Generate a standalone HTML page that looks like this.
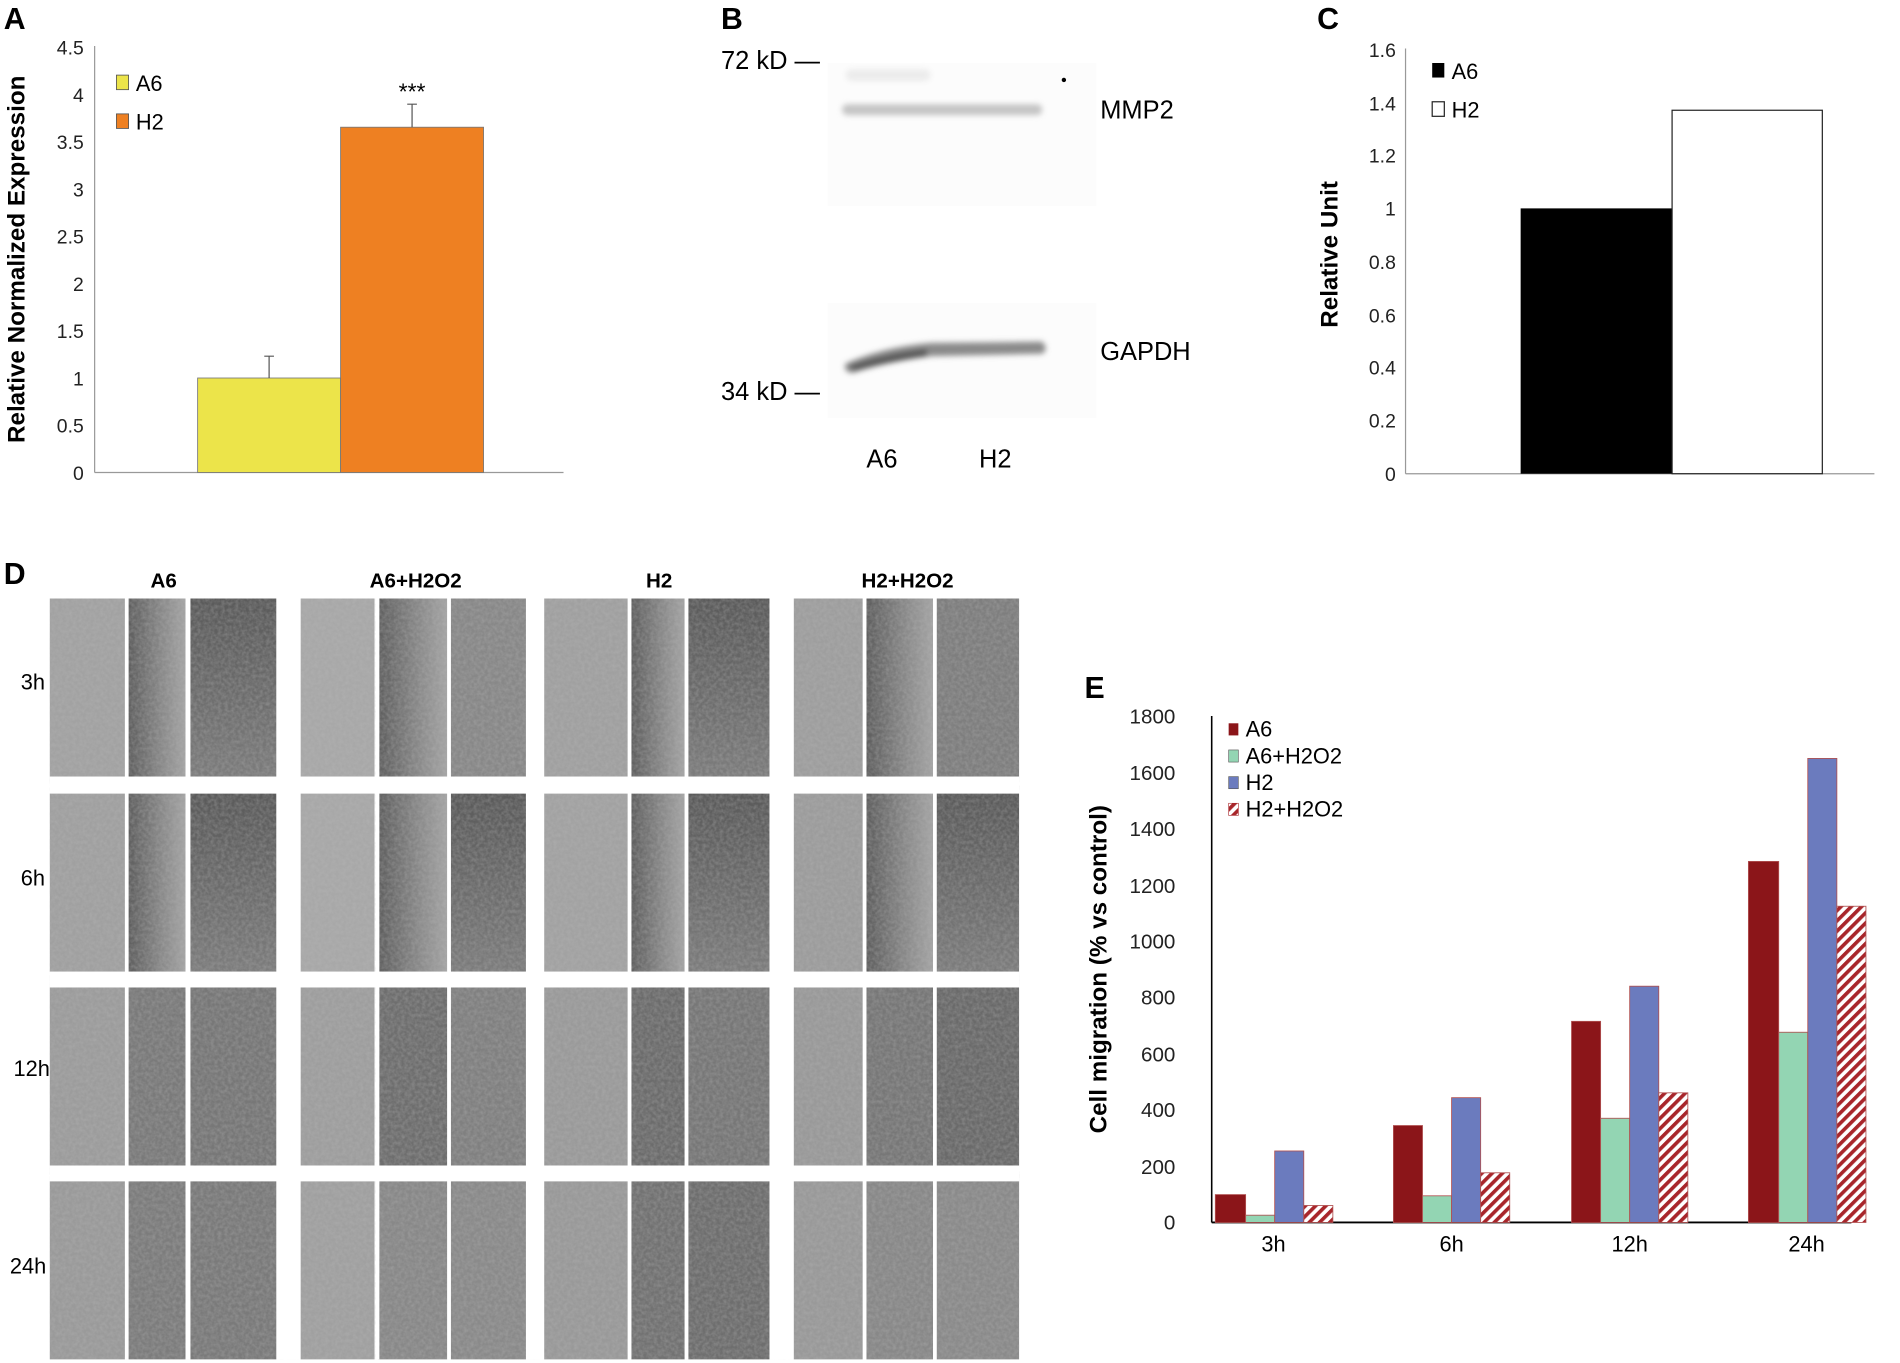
<!DOCTYPE html>
<html><head><meta charset="utf-8"><style>
html,body{margin:0;padding:0;background:#fff;}
svg{display:block;font-family:"Liberation Sans",Arial,sans-serif;}
</style></head><body>
<svg width="1900" height="1363" viewBox="0 0 1568 1125" xmlns="http://www.w3.org/2000/svg">
<defs>
<filter id="noise" x="0" y="0" width="100%" height="100%">
<feTurbulence type="fractalNoise" baseFrequency="0.35" numOctaves="2" seed="3"/>
<feColorMatrix type="matrix" values="0 0 0 0 0.5  0 0 0 0 0.5  0 0 0 0 0.5  0 0 0 1.2 -0.35"/>
</filter>
<filter id="blur" x="-20%" y="-100%" width="140%" height="300%"><feGaussianBlur stdDeviation="2.5"/></filter>
<linearGradient id="mid" x1="0" x2="1" y1="0" y2="0"><stop offset="0" stop-color="#5e5e5e"/><stop offset="0.6" stop-color="#8a8a8a"/><stop offset="1" stop-color="#a4a4a4"/></linearGradient>
<linearGradient id="rgt" x1="0" x2="0" y1="0" y2="1"><stop offset="0" stop-color="#5a5a5a"/><stop offset="1" stop-color="#7c7c7c"/></linearGradient>
<pattern id="hatch" width="6" height="6" patternUnits="userSpaceOnUse" patternTransform="rotate(45)"><rect width="6" height="6" fill="#fff"/><rect width="3" height="6" fill="#a8262b"/></pattern>
</defs>

<!-- Panel A -->
<text x="3" y="24" font-size="25" font-weight="bold">A</text>
<g font-size="16" fill="#222" text-anchor="end">
<text x="69" y="396">0</text><text x="69" y="357">0.5</text><text x="69" y="318">1</text><text x="69" y="279">1.5</text><text x="69" y="240">2</text><text x="69" y="201">2.5</text><text x="69" y="162">3</text><text x="69" y="123">3.5</text><text x="69" y="84">4</text><text x="69" y="45">4.5</text>
</g>
<line x1="78" y1="38" x2="78" y2="390" stroke="#999" stroke-width="1"/>
<line x1="78" y1="390" x2="465" y2="390" stroke="#999" stroke-width="1"/>
<rect x="163" y="312" width="118" height="78" fill="#ece44a" stroke="#777" stroke-width="0.7"/>
<rect x="281" y="105" width="118" height="285" fill="#ee8022" stroke="#777" stroke-width="0.7"/>
<path d="M222 312V294M218 294h8M340 105V86M336 86h8" stroke="#555" stroke-width="1"/>
<text x="340" y="82" font-size="19" text-anchor="middle">***</text>
<rect x="96" y="62" width="10" height="12" fill="#ece44a" stroke="#555" stroke-width="0.7"/>
<text x="112" y="75" font-size="18">A6</text>
<rect x="96" y="94" width="10" height="12" fill="#ee8022" stroke="#555" stroke-width="0.7"/>
<text x="112" y="107" font-size="18">H2</text>
<text transform="translate(20,214) rotate(-90)" font-size="20" font-weight="bold" text-anchor="middle">Relative Normalized Expression</text>

<!-- Panel B -->
<text x="595" y="24" font-size="25" font-weight="bold">B</text>
<rect x="683" y="52" width="222" height="118" fill="#fcfcfc"/>
<rect x="683" y="250" width="222" height="95" fill="#fcfcfc"/>
<g filter="url(#blur)">
<rect x="695" y="86" width="165" height="9" rx="4" fill="#c4c4c4"/>
<rect x="698" y="57" width="70" height="10" rx="5" fill="#ececec"/>
<path d="M698 300 Q730 286 768 283 L860 282 Q866 288 860 292 L768 294 Q735 298 703 308 Q695 306 698 300Z" fill="#8a8a8a"/>
<path d="M700 302 Q730 292 765 288 L765 294 Q735 298 705 306Z" fill="#555"/>
</g>
<circle cx="878" cy="66" r="1.8" fill="#000"/>
<g font-size="21">
<text x="595" y="57">72 kD —</text>
<text x="595" y="330">34 kD —</text>
<text x="908" y="98">MMP2</text>
<text x="908" y="297">GAPDH</text>
<text x="715" y="386">A6</text>
<text x="808" y="386">H2</text>
</g>

<!-- Panel C -->
<text x="1087" y="24" font-size="25" font-weight="bold">C</text>
<g font-size="16" fill="#222" text-anchor="end">
<text x="1152" y="397">0</text><text x="1152" y="353">0.2</text><text x="1152" y="309">0.4</text><text x="1152" y="266">0.6</text><text x="1152" y="222">0.8</text><text x="1152" y="178">1</text><text x="1152" y="134">1.2</text><text x="1152" y="91">1.4</text><text x="1152" y="47">1.6</text>
</g>
<line x1="1160" y1="40" x2="1160" y2="391" stroke="#999"/>
<line x1="1160" y1="391" x2="1547" y2="391" stroke="#999"/>
<rect x="1255" y="172" width="125" height="219" fill="#000"/>
<rect x="1380" y="91" width="124" height="300" fill="#fff" stroke="#222" stroke-width="1"/>
<rect x="1182" y="52" width="10" height="12" fill="#000"/>
<text x="1198" y="65" font-size="18">A6</text>
<rect x="1182" y="84" width="10" height="12" fill="#fff" stroke="#222"/>
<text x="1198" y="97" font-size="18">H2</text>
<text transform="translate(1104,210) rotate(-90)" font-size="20" font-weight="bold" text-anchor="middle">Relative Unit</text>

<!-- Panel D -->
<text x="3" y="482" font-size="25" font-weight="bold">D</text>
<g font-size="17" font-weight="bold" text-anchor="middle">
<text x="135" y="485">A6</text><text x="343" y="485">A6+H2O2</text><text x="544" y="485">H2</text><text x="749" y="485">H2+H2O2</text>
</g>
<g font-size="18">
<text x="17" y="569">3h</text><text x="17" y="731">6h</text><text x="11" y="888">12h</text><text x="8" y="1051">24h</text>
</g>
<g>
<g>
<rect x="41" y="494" width="62" height="147" fill="#a2a2a2"/><rect x="106" y="494" width="47" height="147" fill="url(#mid)"/><rect x="157" y="494" width="71" height="147" fill="url(#rgt)"/>
<rect x="41" y="655" width="62" height="147" fill="#a0a0a0"/><rect x="106" y="655" width="47" height="147" fill="url(#mid)"/><rect x="157" y="655" width="71" height="147" fill="url(#rgt)"/>
<rect x="41" y="815" width="62" height="147" fill="#9c9c9c"/><rect x="106" y="815" width="47" height="147" fill="#7a7a7a"/><rect x="157" y="815" width="71" height="147" fill="#777"/>
<rect x="41" y="975" width="62" height="147" fill="#9a9a9a"/><rect x="106" y="975" width="47" height="147" fill="#7c7c7c"/><rect x="157" y="975" width="71" height="147" fill="#7a7a7a"/>
</g>
<g transform="translate(207,0)">
<rect x="41" y="494" width="61" height="147" fill="#a8a8a8"/><rect x="105" y="494" width="57" height="147" fill="url(#mid)"/><rect x="165" y="494" width="62" height="147" fill="#888"/>
<rect x="41" y="655" width="61" height="147" fill="#a8a8a8"/><rect x="105" y="655" width="57" height="147" fill="url(#mid)"/><rect x="165" y="655" width="62" height="147" fill="url(#rgt)"/>
<rect x="41" y="815" width="61" height="147" fill="#9e9e9e"/><rect x="105" y="815" width="57" height="147" fill="#6e6e6e"/><rect x="165" y="815" width="62" height="147" fill="#808080"/>
<rect x="41" y="975" width="61" height="147" fill="#a0a0a0"/><rect x="105" y="975" width="57" height="147" fill="#888"/><rect x="165" y="975" width="62" height="147" fill="#8a8a8a"/>
</g>
<g transform="translate(408,0)">
<rect x="41" y="494" width="69" height="147" fill="#a0a0a0"/><rect x="113" y="494" width="44" height="147" fill="url(#mid)"/><rect x="160" y="494" width="67" height="147" fill="url(#rgt)"/>
<rect x="41" y="655" width="69" height="147" fill="#a2a2a2"/><rect x="113" y="655" width="44" height="147" fill="url(#mid)"/><rect x="160" y="655" width="67" height="147" fill="url(#rgt)"/>
<rect x="41" y="815" width="69" height="147" fill="#9a9a9a"/><rect x="113" y="815" width="44" height="147" fill="#6c6c6c"/><rect x="160" y="815" width="67" height="147" fill="#777"/>
<rect x="41" y="975" width="69" height="147" fill="#999"/><rect x="113" y="975" width="44" height="147" fill="#727272"/><rect x="160" y="975" width="67" height="147" fill="#6e6e6e"/>
</g>
<g transform="translate(614,0)">
<rect x="41" y="494" width="57" height="147" fill="#9e9e9e"/><rect x="101" y="494" width="55" height="147" fill="url(#mid)"/><rect x="159" y="494" width="68" height="147" fill="#7e7e7e"/>
<rect x="41" y="655" width="57" height="147" fill="#9c9c9c"/><rect x="101" y="655" width="55" height="147" fill="url(#mid)"/><rect x="159" y="655" width="68" height="147" fill="url(#rgt)"/>
<rect x="41" y="815" width="57" height="147" fill="#999"/><rect x="101" y="815" width="55" height="147" fill="#777"/><rect x="159" y="815" width="68" height="147" fill="#6a6a6a"/>
<rect x="41" y="975" width="57" height="147" fill="#999"/><rect x="101" y="975" width="55" height="147" fill="#888"/><rect x="159" y="975" width="68" height="147" fill="#8a8a8a"/>
</g>
</g>
<g opacity="0.45">
<rect x="41" y="494" width="800" height="628" filter="url(#noise)"/>
</g>
<g fill="#fff">
<rect x="228" y="494" width="20" height="628"/><rect x="434" y="494" width="15" height="628"/><rect x="635" y="494" width="20" height="628"/>
<rect x="41" y="641" width="800" height="14"/><rect x="41" y="802" width="800" height="13"/><rect x="41" y="962" width="800" height="13"/>
<rect x="103" y="494" width="3" height="628"/><rect x="153" y="494" width="4" height="628"/>
<rect x="310" y="494" width="3" height="628"/><rect x="369" y="494" width="3" height="628"/>
<rect x="518" y="494" width="3" height="628"/><rect x="565" y="494" width="3" height="628"/>
<rect x="712" y="494" width="3" height="628"/><rect x="770" y="494" width="3" height="628"/>
</g>

<!-- Panel E -->
<text x="895" y="576" font-size="25" font-weight="bold">E</text>
<g font-size="17" fill="#222" text-anchor="end">
<text x="970" y="1015">0</text><text x="970" y="969">200</text><text x="970" y="922">400</text><text x="970" y="876">600</text><text x="970" y="829">800</text><text x="970" y="783">1000</text><text x="970" y="737">1200</text><text x="970" y="690">1400</text><text x="970" y="644">1600</text><text x="970" y="597">1800</text>
</g>
<line x1="1000" y1="591" x2="1000" y2="1009" stroke="#000" stroke-width="1.3"/>
<line x1="1000" y1="1009" x2="1528" y2="1009" stroke="#000" stroke-width="1.5"/>
<g stroke="#b05050" stroke-width="0.7">
<rect x="1003" y="986" width="25" height="23" fill="#8b1519"/>
<rect x="1028" y="1003" width="24" height="6" fill="#93d5b3"/>
<rect x="1052" y="950" width="24" height="59" fill="#6b7bbe"/>
<rect x="1076" y="995" width="24" height="14" fill="url(#hatch)"/>
<rect x="1150" y="929" width="24" height="80" fill="#8b1519"/>
<rect x="1174" y="987" width="24" height="22" fill="#93d5b3"/>
<rect x="1198" y="906" width="24" height="103" fill="#6b7bbe"/>
<rect x="1222" y="968" width="24" height="41" fill="url(#hatch)"/>
<rect x="1297" y="843" width="24" height="166" fill="#8b1519"/>
<rect x="1321" y="923" width="24" height="86" fill="#93d5b3"/>
<rect x="1345" y="814" width="24" height="195" fill="#6b7bbe"/>
<rect x="1369" y="902" width="24" height="107" fill="url(#hatch)"/>
<rect x="1443" y="711" width="25" height="298" fill="#8b1519"/>
<rect x="1468" y="852" width="24" height="157" fill="#93d5b3"/>
<rect x="1492" y="626" width="24" height="383" fill="#6b7bbe"/>
<rect x="1516" y="748" width="24" height="261" fill="url(#hatch)"/>
</g>
<g font-size="18" text-anchor="middle">
<text x="1051" y="1033">3h</text><text x="1198" y="1033">6h</text><text x="1345" y="1033">12h</text><text x="1491" y="1033">24h</text>
</g>
<rect x="1014" y="597" width="8" height="10" fill="#8b1519"/>
<rect x="1014" y="619" width="8" height="10" fill="#93d5b3" stroke="#555" stroke-width="0.5"/>
<rect x="1014" y="641" width="8" height="10" fill="#6b7bbe" stroke="#555" stroke-width="0.5"/>
<rect x="1014" y="663" width="8" height="10" fill="url(#hatch)" stroke="#a8262b" stroke-width="0.5"/>
<g font-size="18">
<text x="1028" y="608">A6</text><text x="1028" y="630">A6+H2O2</text><text x="1028" y="652">H2</text><text x="1028" y="674">H2+H2O2</text>
</g>
<text transform="translate(913,800) rotate(-90)" font-size="20" font-weight="bold" text-anchor="middle">Cell migration (% vs control)</text>
</svg>
</body></html>
